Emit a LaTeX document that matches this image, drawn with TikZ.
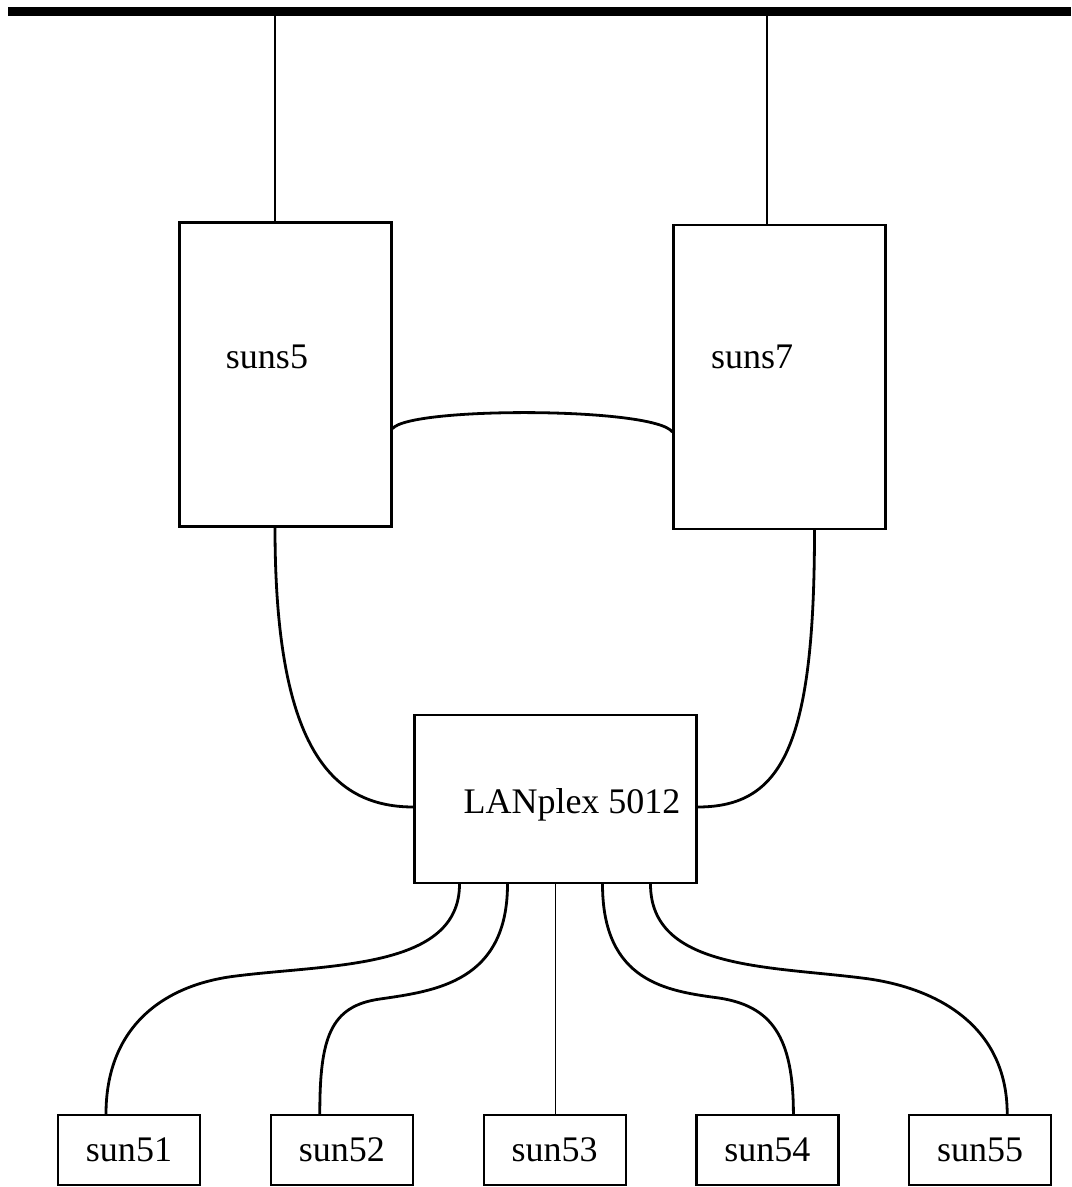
\documentclass[tikz,border=0pt]{standalone}
\usepackage{fontspec}
\setmainfont{Liberation Serif}
\usetikzlibrary{positioning, calc}

\begin{document}
\begin{tikzpicture}[
    x=0.5pt, y=-0.5pt,
    font=\fontsize{18}{21}\selectfont,
    node distance=34.3pt,
    % Style definitions
    server/.style={draw, line width=1.1pt, minimum width=106pt, minimum height=152pt, inner sep=0pt},
    switchbox/.style={draw, line width=1.1pt, minimum width=141pt, minimum height=84pt, inner sep=0pt},
    host/.style={draw, line width=1.1pt, minimum width=71pt, minimum height=35pt, inner sep=0pt},
    bus/.style={line width=4.5pt},
    drop/.style={line width=0.9pt},
    cable/.style={line width=1.4pt},
]
\useasboundingbox (0,0) rectangle (1071,1187);

%% ---------- BACKBONE ----------
\coordinate (bus_w) at (8,12);
\coordinate (bus_e) at (1071,12);
\coordinate (tap5) at (275,12);
\coordinate (tap7) at (767,12);
\draw[bus] (bus_w) -- (bus_e);

%% ---------- SERVERS ----------
\node[server] (suns5) at (285.5,374.5) {};
\node (suns5_txt) at (267,357) {suns5};
\node[server] (suns7) at (779.5,377) {};
\node (suns7_txt) at (752,357) {suns7};

%% ---------- SWITCH ----------
\node[switchbox] (lan) at (555.5,799) {};
\node (lan_txt) at (572,805) {LANplex 5012};

%% ---------- HOSTS ----------
\node[host] (sun51) at (129,1150) {sun51};
\node[host, right=of sun51] (sun52) {sun52};
\node[host, right=of sun52] (sun53) {sun53};
\node[host, right=of sun53] (sun54) {sun54};
\node[host, right=of sun54] (sun55) {sun55};

%% ========== CABLES ==========

% Servers on the backbone
\draw[drop] (tap5) -- (tap5 |- suns5.north);
\draw[drop] (tap7) -- (tap7 |- suns7.north);

% Server to server
\draw[cable] ($(suns5.east)+(0,54)$) .. controls +(18,-22) and +(-18,-25) .. ($(suns7.west)+(0,55)$);

% Servers to switch
\draw[cable] (tap5 |- suns5.south) .. controls +(0,215) and +(-85,0) .. ($(lan.west)+(0,8)$);
\draw[cable] ($(suns7.south)+(35,0)$) .. controls +(0,215) and +(85,0) .. ($(lan.east)+(0,8)$);

% Switch to hosts
\draw[cable] ($(lan.south)+(-96,0)$) .. controls +(0,85) and +(95,-12) .. (236,976)
    .. controls +(-75,9) and +(0,-85) .. ($(sun51.north)+(-23,0)$);
\draw[cable] ($(lan.south)+(-48,0)$) .. controls +(0,98) and +(55,-8) .. (380,999)
    .. controls +(-50,7) and +(0,-76) .. ($(sun52.north)+(-22,0)$);
\draw[drop] (lan.south) -- (lan.south |- sun53.north);
\draw[cable] ($(lan.south)+(47,0)$) .. controls +(0,98) and +(-52,-7) .. (719,998)
    .. controls +(52,8) and +(0,-78) .. ($(sun54.north)+(26,0)$);
\draw[cable] ($(lan.south)+(95,0)$) .. controls +(0,85) and +(-95,-12) .. (862,978)
    .. controls +(75,9) and +(0,-88) .. ($(sun55.north)+(27,0)$);

\end{tikzpicture}
\end{document}
